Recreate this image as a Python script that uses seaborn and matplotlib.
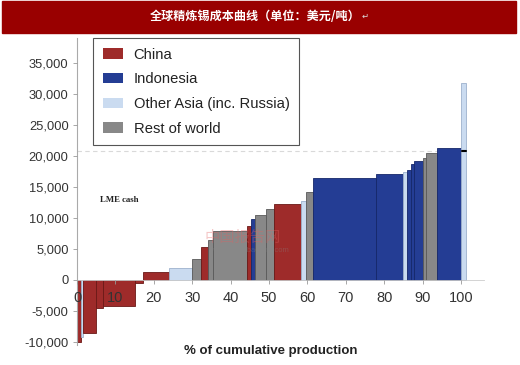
import numpy as np
import pandas as pd
import seaborn as sns
import matplotlib.pyplot as plt
from matplotlib.patches import Rectangle, Patch
from matplotlib.ticker import FuncFormatter

# Curva de costos del estaño refinado (USD/t), bloques ordenados por costo
# participación de cada bloque en la producción mundial (%)
share = [1.0, 0.6, 3.4, 1.9, 8.2, 2.0, 6.9, 6.0, 2.2, 2.0, 1.2, 8.8, 1.0, 1.2,
         2.8, 2.2, 6.9, 1.3, 1.8, 16.5, 6.9, 1.1, 1.0, 0.9, 2.2, 0.9, 2.9, 6.2, 1.2]
cost = [-9950, -9200, -8600, -4560, -4200, -500, 1240, 1890, 3300, 5250, 6400,
        7900, 8760, 9840, 10480, 11450, 12260, 12740, 14100, 16500, 17050,
        17470, 17740, 18660, 19190, 19630, 20430, 21340, 31820]
region = ["China", "Other Asia (inc. Russia)", "China", "China", "China", "China",
          "China", "Other Asia (inc. Russia)", "Rest of world", "China",
          "Rest of world", "Rest of world", "China", "Indonesia", "Rest of world",
          "Rest of world", "China", "Other Asia (inc. Russia)", "Rest of world",
          "Indonesia", "Indonesia", "Other Asia (inc. Russia)", "Indonesia",
          "Indonesia", "Indonesia", "Rest of world", "Rest of world", "Indonesia",
          "Other Asia (inc. Russia)"]
lme_cash = 20800

legend_order = ["China", "Indonesia", "Other Asia (inc. Russia)", "Rest of world"]
y_ticks = [-10000, -5000, 0, 5000, 10000, 15000, 20000, 25000, 30000, 35000]
x_ticks = [0, 10, 20, 30, 40, 50, 60, 70, 80, 90, 100]

fill = {"China": "#9E2B2A", "Indonesia": "#243D94",
        "Other Asia (inc. Russia)": "#CADBF0", "Rest of world": "#888888"}
edge = {"China": "#6A1816", "Indonesia": "#15276A",
        "Other Asia (inc. Russia)": "#9DB1CC", "Rest of world": "#595959"}

df = pd.DataFrame({"share": share, "cost": cost, "region": region})
df["left"] = df["share"].cumsum() - df["share"]

sns.set_style("white")
plt.rcParams["font.family"] = ["Liberation Sans", "Noto Sans CJK SC", "DejaVu Sans"]

fig = plt.figure(figsize=(5.2, 3.65), dpi=100)
ax = fig.add_axes([77 / 520, 1 - 345 / 365, 407 / 520, 307 / 365])
ax.set_axisbelow(False)

ax.bar(df["left"], df["cost"], width=df["share"], align="edge",
       color=df["region"].map(fill), edgecolor=df["region"].map(edge), linewidth=0.6,
       zorder=1)

# linea LME cash
ax.plot([0, 101], [lme_cash, lme_cash], color="#d9d9d9", lw=0.8, ls=(0, (4, 3)), zorder=0.5)
ax.plot([100.3, 101.3], [lme_cash, lme_cash], color="black", lw=1.5, zorder=4)
ax.text(6, 12900, "LME cash", family="Liberation Serif", fontsize=6.3,
        fontweight="bold", color="#222222", va="center")

ax.set_xlim(0, 106)
ax.set_ylim(-10500, 39000)
ax.set_yticks(y_ticks)
ax.set_xticks(x_ticks)
ax.yaxis.set_major_formatter(FuncFormatter(lambda v, p: f"{v:,.0f}"))
ax.tick_params(axis="y", left=True, length=3, width=0.6, color="#999999",
               labelsize=9.3, labelcolor="#333333", pad=3)
ax.tick_params(axis="x", bottom=True, length=3, width=0.6, color="#999999",
               labelsize=10.5, labelcolor="#333333", pad=5)

for s in ["top", "right"]:
    ax.spines[s].set_visible(False)
ax.spines["left"].set_color("#aaaaaa")
ax.spines["left"].set_linewidth(0.8)
ax.spines["bottom"].set_position(("data", 0))
ax.spines["bottom"].set_color("#cccccc")
ax.spines["bottom"].set_linewidth(0.6)
ax.grid(False)

handles = [Patch(facecolor=fill[r], edgecolor="none") for r in legend_order]
leg = fig.legend(handles, legend_order, loc="upper left",
                 bbox_to_anchor=(93 / 520, 1 - 38 / 365), borderaxespad=0,
                 fontsize=10.6, frameon=True, fancybox=False, framealpha=1,
                 edgecolor="#555555", handlelength=1.35, handleheight=0.7,
                 handletextpad=0.75, labelspacing=0.72, borderpad=0.66)
leg.get_frame().set_linewidth(0.8)
for t in leg.get_texts():
    t.set_color("#222222")

# marca de agua
fig.text(205 / 520, 1 - 237 / 365, "中国报告网", color="#e06060", alpha=0.35,
         fontsize=11, family=["Noto Sans CJK SC"], va="center")
fig.text(210 / 520, 1 - 250 / 365, "www.chinabaogao.com", color="#888888",
         alpha=0.35, fontsize=5.5, va="center")

# titulo en banda roja
fig.add_artist(Rectangle((2 / 520, 1 - 33 / 365), 514 / 520, 32 / 365,
                         transform=fig.transFigure, color="#990000", zorder=0))
fig.text(255 / 520, 1 - 16 / 365, "全球精炼锡成本曲线（单位：美元/吨）", color="white",
         fontsize=8.7, fontweight="bold", family=["Noto Sans CJK SC"],
         ha="center", va="center")
fig.text(362 / 520, 1 - 16 / 365, "↵", color="#dddddd", fontsize=6,
         family=["DejaVu Sans"], va="center")

fig.text(271 / 520, 1 - 351 / 365, "% of cumulative production", fontsize=9.5,
         fontweight="bold", color="#222222", ha="center", va="center")

fig.savefig("out.png", dpi=100)
